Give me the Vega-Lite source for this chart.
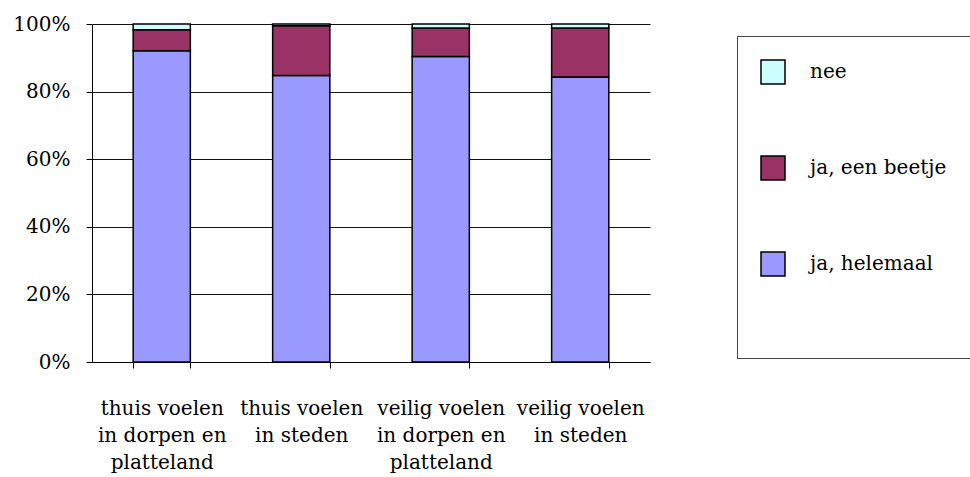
{
  "$schema": "https://vega.github.io/schema/vega-lite/v6.json",
  "width": 558,
  "height": 338,
  "autosize": {"type": "none"},
  "padding": {"left": 92, "top": 24, "right": 320, "bottom": 115},
  "background": "white",
  "config": {
    "font": "DejaVu Serif",
    "view": {"stroke": null},
    "axis": {"labelFont": "DejaVu Serif", "labelColor": "black", "labelFontSize": 20}
  },
  "data": {
    "values": [
      {"groep": "thuis voelen in dorpen en platteland", "antwoord": "ja, helemaal", "volgorde": 1, "aandeel": 92.1},
      {"groep": "thuis voelen in dorpen en platteland", "antwoord": "ja, een beetje", "volgorde": 2, "aandeel": 6.2},
      {"groep": "thuis voelen in dorpen en platteland", "antwoord": "nee", "volgorde": 3, "aandeel": 1.7},
      {"groep": "thuis voelen in steden", "antwoord": "ja, helemaal", "volgorde": 1, "aandeel": 84.8},
      {"groep": "thuis voelen in steden", "antwoord": "ja, een beetje", "volgorde": 2, "aandeel": 14.7},
      {"groep": "thuis voelen in steden", "antwoord": "nee", "volgorde": 3, "aandeel": 0.5},
      {"groep": "veilig voelen in dorpen en platteland", "antwoord": "ja, helemaal", "volgorde": 1, "aandeel": 90.4},
      {"groep": "veilig voelen in dorpen en platteland", "antwoord": "ja, een beetje", "volgorde": 2, "aandeel": 8.4},
      {"groep": "veilig voelen in dorpen en platteland", "antwoord": "nee", "volgorde": 3, "aandeel": 1.2},
      {"groep": "veilig voelen in steden", "antwoord": "ja, helemaal", "volgorde": 1, "aandeel": 84.3},
      {"groep": "veilig voelen in steden", "antwoord": "ja, een beetje", "volgorde": 2, "aandeel": 14.5},
      {"groep": "veilig voelen in steden", "antwoord": "nee", "volgorde": 3, "aandeel": 1.2}
    ]
  },
  "mark": {"type": "bar", "stroke": "black", "strokeWidth": 1.5},
  "encoding": {
    "x": {
      "field": "groep",
      "type": "nominal",
      "sort": null,
      "scale": {"paddingInner": 0.59, "paddingOuter": 0.295},
      "axis": {
        "title": null,
        "labelAngle": 0,
        "tickBand": "extent",
        "tickSize": 6,
        "tickColor": "black",
        "domainColor": "black",
        "labelPadding": 30,
        "labelLineHeight": 27,
        "labelBaseline": "top",
        "labelLimit": 0,
        "labelExpr": "datum.label == 'thuis voelen in dorpen en platteland' ? ['thuis voelen', 'in dorpen en', 'platteland'] : datum.label == 'thuis voelen in steden' ? ['thuis voelen', 'in steden'] : datum.label == 'veilig voelen in dorpen en platteland' ? ['veilig voelen', 'in dorpen en', 'platteland'] : datum.label == 'veilig voelen in steden' ? ['veilig voelen', 'in steden'] : ''"
      }
    },
    "y": {
      "field": "aandeel",
      "type": "quantitative",
      "stack": "normalize",
      "scale": {"domain": [0, 1], "nice": false},
      "axis": {
        "title": null,
        "format": ".0%",
        "values": [0, 0.2, 0.4, 0.6, 0.8, 1],
        "grid": true,
        "gridColor": "#111111",
        "tickColor": "black",
        "domainColor": "black",
        "tickSize": 6,
        "labelPadding": 16
      }
    },
    "color": {
      "field": "antwoord",
      "type": "nominal",
      "scale": {
        "domain": ["nee", "ja, een beetje", "ja, helemaal"],
        "range": ["#CCFFFF", "#993366", "#9999FF"]
      },
      "legend": {
        "orient": "none",
        "legendX": 645,
        "legendY": 12,
        "strokeColor": "#444444",
        "fillColor": "white",
        "padding": 23,
        "symbolType": "square",
        "symbolSize": 576,
        "symbolStrokeColor": "black",
        "symbolStrokeWidth": 1.5,
        "symbolOpacity": 1,
        "rowPadding": 66,
        "labelFont": "DejaVu Serif",
        "labelFontSize": 20,
        "labelColor": "black",
        "labelOffset": 24,
        "labelLimit": 0,
        "title": "\u00a0\u00a0\u00a0\u00a0\u00a0\u00a0\u00a0\u00a0\u00a0\u00a0\u00a0\u00a0\u00a0\u00a0\u00a0\u00a0\u00a0\u00a0\u00a0\u00a0\u00a0\u00a0\u00a0\u00a0\u00a0\u00a0\u00a0\u00a0\u00a0\u00a0\u00a0\u00a0\u00a0\u00a0",
        "titleOrient": "bottom",
        "titleFontSize": 19,
        "titlePadding": 37
      }
    },
    "order": {"field": "volgorde", "type": "quantitative"}
  }
}
